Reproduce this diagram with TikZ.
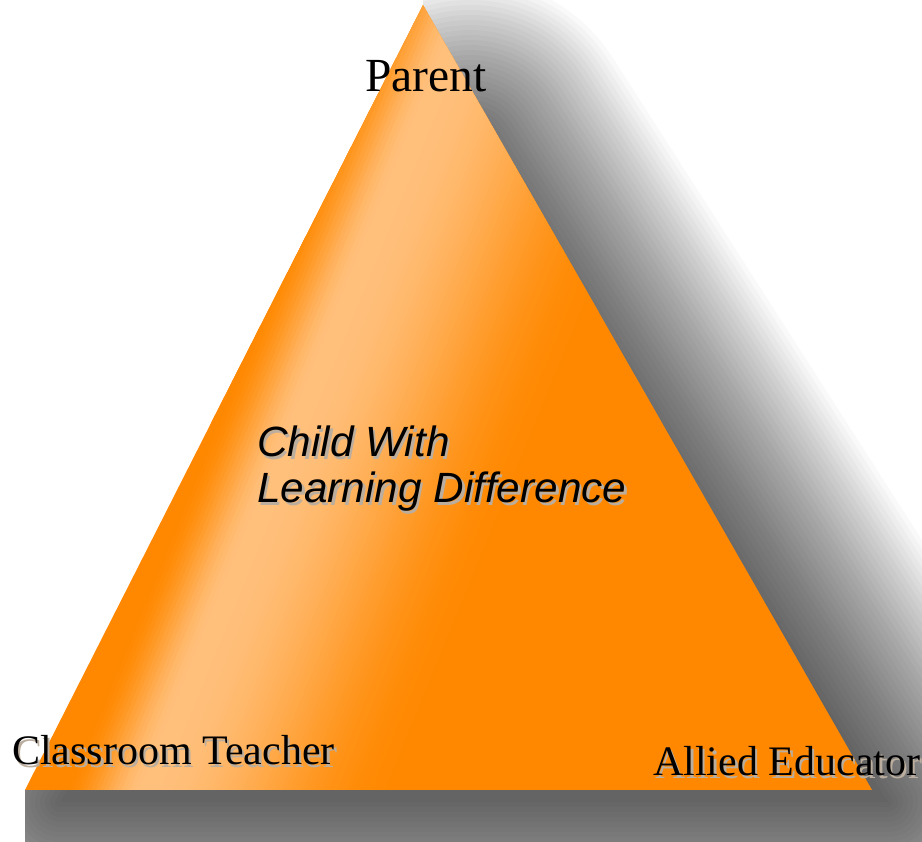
\documentclass[tikz,border=0pt]{standalone}
\usepackage{fontspec}
\setmainfont{Liberation Serif}
\newfontfamily\arialfont{Liberation Sans}
\definecolor{org}{HTML}{FF8800}
\definecolor{orglight}{HTML}{FFC07C}
\definecolor{txtshadow}{HTML}{BBAE9E}
\begin{document}
\begin{tikzpicture}[x=1pt,y=1pt,
  serif/.style={inner sep=0pt, font=\fontsize{42}{42}\selectfont},
  sans/.style={inner sep=0pt, anchor=base west, font=\arialfont\itshape\fontsize{42.3}{42.3}\selectfont},
  tshadow/.style={text=txtshadow}]
\useasboundingbox (0,0) rectangle (922,842);
\fill[white] (0,0) rectangle (922,842);
% blurred drop shadow
\begin{scope}
  \clip (423,842) -- (423,837) -- (25,52) -- (25,0) -- (922,0) -- (922,842) -- cycle;
  \foreach \r in {0,5,...,170}{
    \begin{scope}[transparency group, opacity=0.024]
      \filldraw[black, line width=2*\r, line join=round] (470,692) -- (888,40) -- (60,40) -- cycle;
    \end{scope}
  }
\end{scope}
% triangle
\coordinate (A) at (423,837);
\coordinate (B) at (25,52);
\coordinate (C) at (872,52);
\fill[org] (A) -- (B) -- (C) -- cycle;
\begin{scope}
  \clip (A) -- (B) -- (C) -- cycle;
  \begin{scope}[shift={(272,367)}, rotate=-22.25]
    \foreach \o in {-76,-72,...,236}{
      \pgfmathsetmacro\tt{(\o<0)*(\o/76)+(\o>=0)*(\o/236)}
      \pgfmathsetmacro\p{50+50*cos(180*\tt)}
      \fill[orglight!\p!org] (\o,-600) -- (\o+4.8,-600) -- (\o+4.8,600) -- (\o,600) -- cycle;
    }
  \end{scope}
\end{scope}
% labels
\node[serif, anchor=base, font=\fontsize{47.5}{47.5}\selectfont] (parent) at (426,750) {Parent};
\node[serif, anchor=base west, tshadow] (teacherS) at (14.5,74.5) {Classroom Teacher};
\node[serif, anchor=base west] (teacher) at (12,77) {Classroom Teacher};
\node[serif, anchor=base west, tshadow] (alliedS) at (655.5,63.5) {Allied Educator};
\node[serif, anchor=base west] (allied) at (653,66) {Allied Educator};
\node[sans, tshadow] (child1S) at (259.5,382.5) {Child With};
\node[sans] (child1) at (257,385) {Child With};
\node[sans, tshadow] (child2S) at (259.5,336.5) {Learning Difference};
\node[sans] (child2) at (257,339) {Learning Difference};
\end{tikzpicture}
\end{document}
